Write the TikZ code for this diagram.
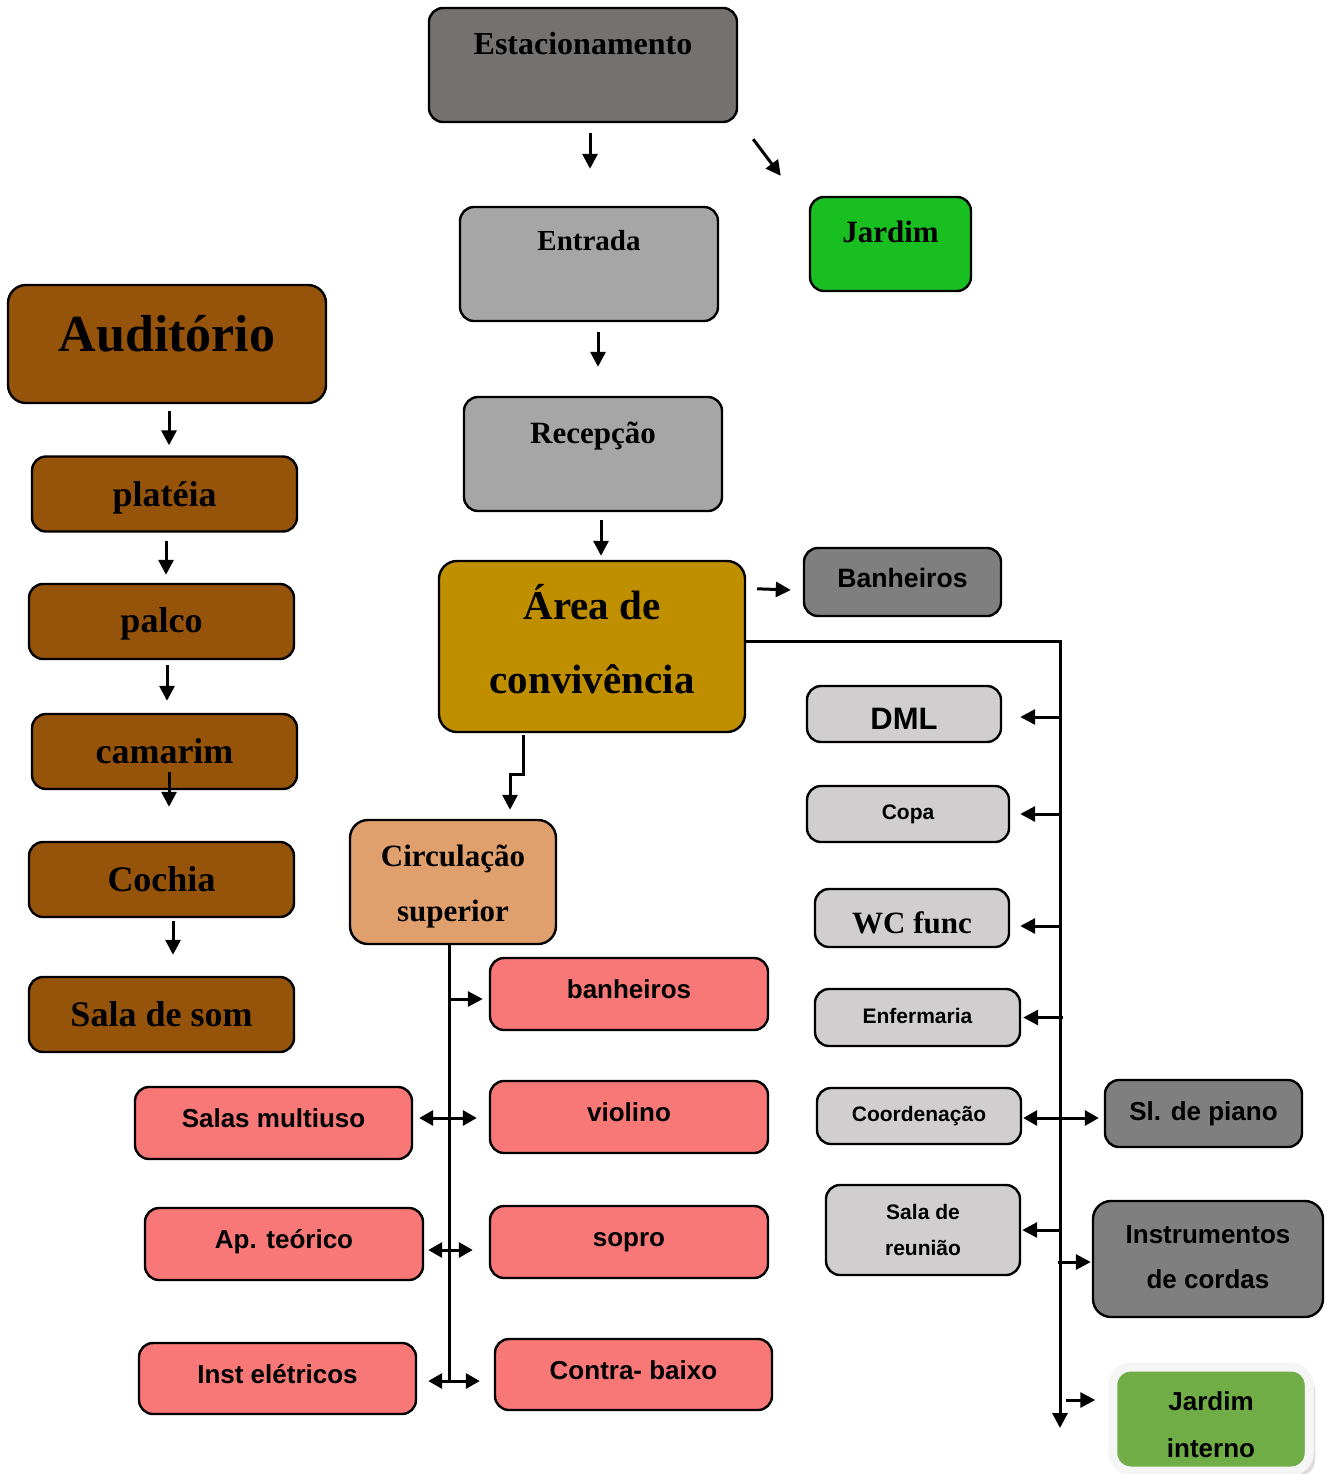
\documentclass[tikz,border=0pt]{standalone}
\usepackage{fontspec}
\setmainfont{Liberation Serif}
\setsansfont{Liberation Sans}
\usepackage{tikz}
\usetikzlibrary{calc,arrows.meta,shadows}

\definecolor{cinzaescuro}{RGB}{117,113,113}
\definecolor{cinzamedio}{RGB}{166,166,166}
\definecolor{cinza}{RGB}{127,127,127}
\definecolor{cinzaclaro}{RGB}{208,206,206}
\definecolor{verde}{RGB}{25,191,32}
\definecolor{verdejardim}{RGB}{112,173,71}
\definecolor{ouro}{RGB}{191,143,0}
\definecolor{marrom}{RGB}{150,83,10}
\definecolor{pessego}{RGB}{223,160,110}
\definecolor{rosa}{RGB}{248,120,120}

\begin{document}
\begin{tikzpicture}[x=0.5pt,y=-0.5pt,
    box/.style={draw,line width=1.2pt,rounded corners=7pt,inner sep=0pt,align=center},
    letra/.style 2 args={font=\bfseries\fontsize{#1}{#2}\selectfont},
    letrasf/.style 2 args={font=\sffamily\bfseries\fontsize{#1}{#2}\selectfont},
    arr/.style={line width=1.5pt,-{Triangle[length=7.5pt,width=7.5pt]}},
    arrd/.style={line width=1.5pt,{Triangle[length=7pt,width=7.5pt]}-{Triangle[length=7pt,width=7.5pt]}},
    linha/.style={line width=1.5pt},
    marromBox/.style={box,fill=marrom,minimum width=132.5pt,minimum height=37.5pt,letra={18}{21}},
    rosaBox/.style={box,fill=rosa,minimum width=139pt,minimum height=36pt,letrasf={13}{15},text height=9.5pt,text depth=5pt},
    claroBox/.style={box,fill=cinzaclaro,minimum height=28pt}]
        \useasboundingbox (0,0) rectangle (1328,1474);

        % entrada principal
        \node[box,fill=cinzaescuro,minimum width=154pt,text height=23pt,text depth=34pt,letra={16}{19}] (est) at (583,65) {Estacionamento};
        \node[box,fill=cinzamedio,minimum width=129pt,text height=21.5pt,text depth=35.5pt,letra={14.5}{17}] (ent) at (589,264) {Entrada};
        \node[box,fill=verde,minimum width=80.5pt,text height=22.5pt,text depth=24.5pt,letra={15.5}{18}] (jar) at (890.5,244) {Jardim};
        \node[box,fill=cinzamedio,minimum width=129pt,text height=23pt,text depth=34pt,letra={15.5}{18}] (rec) at (593,454) {Recepção};
        \node[box,fill=ouro,minimum width=153pt,minimum height=85.5pt,rounded corners=9pt,text depth=8pt,letra={20.5}{37}] (area) at (592,646.5) {Área de\\convivência};

        % lado direito
        \node[box,fill=cinza,minimum width=98.5pt,minimum height=34pt,text depth=4pt,letrasf={13.3}{16}] (banh) at (902.5,582) {Banheiros};
        \node[claroBox,minimum width=97pt,text height=15pt,text depth=0pt,letrasf={15.5}{18}] (dml) at (904,714) {DML};
        \node[claroBox,minimum width=101pt,letrasf={10.5}{12}] (copa) at (908,814) {Copa};
        \node[claroBox,minimum width=97pt,minimum height=29pt,text height=15.7pt,text depth=0pt,letra={15.5}{18}] (wc) at (912,918) {WC func};
        \node[claroBox,minimum width=102.5pt,minimum height=28.5pt,text depth=2pt,letrasf={10.5}{12}] (enf) at (917.5,1017.5) {Enfermaria};
        \node[claroBox,minimum width=102pt,letrasf={10.5}{12}] (coord) at (919,1116) {Coordenação};
        \node[claroBox,minimum width=97pt,minimum height=45pt,letrasf={10.5}{18}] (reun) at (923,1230) {Sala de\\reunião};
        \node[box,fill=cinza,minimum width=98.5pt,minimum height=33.5pt,letrasf={13}{15}] (piano) at (1203.5,1113.5) {Sl. de piano};
        \node[box,fill=cinza,minimum width=115pt,minimum height=58pt,rounded corners=9pt,text depth=2pt,letrasf={13}{22.5}] (instr) at (1208,1259) {Instrumentos\\de cordas};
        \node[box,fill=verdejardim,draw=gray!8,line width=4.5pt,minimum width=98.25pt,minimum height=52pt,rounded corners=9pt,text height=38pt,text depth=0pt,
              drop shadow={shadow xshift=3pt,shadow yshift=-3pt,fill=gray!55},letrasf={13}{23.5}] (jint) at (1211,1419) {Jardim\\interno};

        % auditorio
        \node[box,fill=marrom,minimum width=159pt,rounded corners=9pt,text height=33pt,text depth=26pt,letra={26}{30}] (aud) at (167,344) {Auditório};
        \node[marromBox,text depth=0pt] (plat) at (164.5,494) {platéia};
        \node[marromBox,text depth=1pt] (palco) at (161.5,621.5) {palco};
        \node[marromBox] (cam) at (164.5,751.5) {camarim};
        \node[marromBox] (coch) at (161.5,879.5) {Cochia};
        \node[marromBox] (som) at (161.5,1014.5) {Sala de som};

        % circulacao superior
        \node[box,fill=pessego,minimum width=103pt,minimum height=62pt,rounded corners=9pt,text height=43pt,text depth=3.4pt,letra={15.5}{27.5}] (circ) at (453,882) {Circulação\\superior};
        \node[rosaBox] (banh2) at (629,994) {banheiros};
        \node[rosaBox] (viol) at (629,1117) {violino};
        \node[rosaBox] (sopro) at (629,1242) {sopro};
        \node[rosaBox,minimum width=138.5pt,minimum height=35.5pt] (contra) at (633.5,1374.5) {Contra- baixo};
        \node[rosaBox,minimum width=138.5pt] (multi) at (273.5,1123) {Salas multiuso};
        \node[rosaBox] (ap) at (284,1244) {Ap. teórico};
        \node[rosaBox,minimum width=138.5pt,minimum height=35.5pt] (inst) at (277.5,1378.5) {Inst elétricos};

        % setas
        \draw[arr] ($(est.south)+(7,10)$) -- ($(ent.north)+(1,-37)$);
        \draw[arr] ($(est.south east)+(15,16)$) -- ($(jar.north west)+(-28,-20)$);
        \draw[arr] ($(ent.south)+(9,10)$) -- ($(rec.north)+(5,-29)$);
        \draw[arr] ($(rec.south)+(8,8)$) -- ($(area.north)+(9,-4)$);
        \draw[arr] ($(area.north east)+(11,29)$) -- ($(banh.west)+(-12,8)$);

        \coordinate (fimdir) at (1060,1428);
        \draw[arr] ($(area.east)+(0,-5.5)$) -| (fimdir);
        \draw[arr] ($(dml.east -| fimdir)+(0,3)$) -- ($(dml.east)+(18,3)$);
        \draw[arr] (copa.east -| fimdir) -- ($(copa.east)+(10,0)$);
        \draw[arr] ($(wc.east -| fimdir)+(0,8)$) -- ($(wc.east)+(10,8)$);
        \draw[arr] ($(enf.east -| fimdir)+(3,0)$) -- ($(enf.east)+(2,0)$);
        \draw[arrd] ($(coord.east)+(1,2)$) -- ($(coord.east -| piano.west)+(-5,2)$);
        \draw[arr] (reun.east -| fimdir) -- ($(reun.east)+(1,0)$);
        \draw[arr] ($(instr.west -| fimdir)+(-2,3)$) -- ($(instr.west)+(-1,3)$);
        \draw[arr] ($(jint.west -| fimdir)+(6,-19)$) -- ($(jint.west)+(-13,-19)$);

        \draw[arr] ($(area.south)+(-69,2)$) -- ++(0,39) -| ($(circ.north)+(57,-9)$);
        \coordinate (fimesq) at (449,1381);
        \draw[linha] ($(circ.south)+(-4,0)$) -- (fimesq);
        \draw[arr] ($(banh2.west -| fimesq)+(0,5)$) -- ($(banh2.west)+(-6,5)$);
        \draw[arrd] ($(multi.east)+(6,-5)$) -- ($(viol.west)+(-12,1)$);
        \draw[arrd] ($(ap.east)+(4,6)$) -- ($(sopro.west)+(-16,8)$);
        \draw[arrd] ($(inst.east)+(11,2.5)$) -- ($(contra.west)+(-14,6.5)$);

        \draw[arr] ($(aud.south)+(2,7)$) -- ($(plat.north)+(4.5,-10)$);
        \draw[arr] ($(plat.south)+(1.5,8)$) -- ($(palco.north)+(4.5,-8)$);
        \draw[arr] ($(palco.south)+(5.5,5)$) -- ($(cam.north)+(2.5,-12)$);
        \draw[arr] ($(cam.south)+(4.5,-18)$) -- ($(coch.north)+(7.5,-34)$);
        \draw[arr] ($(coch.south)+(11.5,3)$) -- ($(som.north)+(11.5,-21)$);
\end{tikzpicture}
\end{document}
